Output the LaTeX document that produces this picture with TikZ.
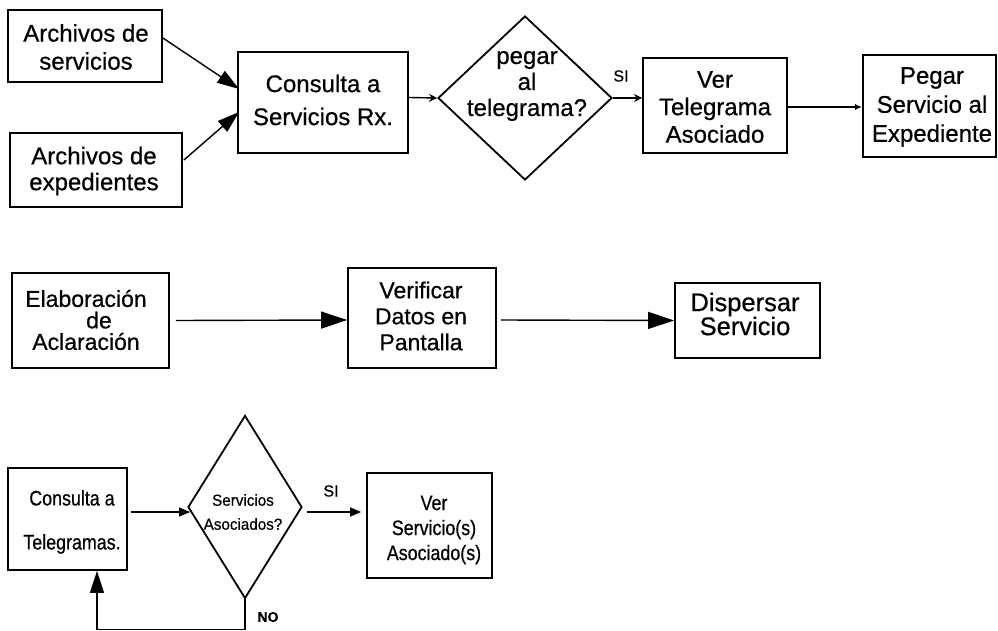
\documentclass[tikz,border=0pt]{standalone}
\usepackage{fontspec}
\setmainfont[FakeBold=0.6]{Liberation Sans}
\newfontfamily\condfont[FakeStretch=0.85,FakeBold=0.6]{Liberation Sans}
\newfontfamily\dfont[FakeStretch=0.95,FakeBold=0.5]{Liberation Sans}
\usetikzlibrary{arrows.meta,calc,shapes.geometric}
\begin{document}
\begin{tikzpicture}[x=1pt,y=-1pt,
  box/.style={draw, line width=1.8pt, inner sep=0pt},
  txt/.style={inner sep=0pt, align=center},
  conn/.style={line width=1.4pt},
  bigarr/.style={conn, -{Triangle[length=22pt,width=14pt]}},
  widearr/.style={conn, -{Triangle[length=26pt,width=17pt]}},
  tinyarr/.style={conn, -{Stealth[length=8pt,width=8pt]}},
  smallarr/.style={conn, -{Triangle[length=11pt,width=9pt]}},
  dotarr/.style={conn, -{Latex[length=7pt,width=6pt]}}]
\fill[white] (0,0) rectangle (998,631);
\useasboundingbox (0,0) rectangle (998,631);

% ---------- row 1 ----------
\node[box, minimum width=154pt, minimum height=72pt] (as) at (85,46) {};
\node[txt, font=\fontsize{24}{28}\selectfont] (ast) at (86,47) {Archivos de\\servicios};

\node[box, minimum width=172pt, minimum height=74pt] (ae) at (96,170) {};
\node[txt, font=\fontsize{24}{26}\selectfont] (aet) at (94,171) {Archivos de\\expedientes};

\node[box, minimum width=170pt, minimum height=101pt] (csr) at (323,102.5) {};
\node[txt, font=\fontsize{24}{33}\selectfont] (csrt) at (323,100) {Consulta a\\Servicios Rx.};

\node[diamond, draw, line width=1.8pt, inner sep=0pt, minimum width=174pt, minimum height=164pt] (d1) at (525,98) {};
\node[txt, font=\fontsize{24}{26}\selectfont] (d1t) at (527,86) {pegar\\al\\telegrama?};

\node[box, minimum width=144pt, minimum height=95pt] (vt) at (715,105.5) {};
\node[txt, font=\fontsize{24}{27.5}\selectfont] (vtt) at (715,107) {Ver\\Telegrama\\Asociado};

\node[box, minimum width=133pt, minimum height=102pt] (ps) at (929.5,106) {};
\node[txt, font=\fontsize{24}{29}\selectfont] (pst) at (932,107) {Pegar\\Servicio al\\Expediente};

\node[font=\fontsize{16}{16}\selectfont, inner sep=0pt] (si1) at (621,76) {SI};

\draw[bigarr] ($(as.east)+(0,-8)$) -- ($(csr.west)+(2,-13.5)$);
\draw[bigarr] ($(ae.east)+(1,-10)$) -- ($(csr.west)+(2,9.5)$);
\draw[tinyarr] ($(csr.east)+(0,-5)$) -- (d1.west);
\draw[tinyarr] (d1.east) -- ($(vt.west)+(0,-7.5)$);
\draw[dotarr] ($(vt.east)+(0,1.5)$) -- ($(ps.west)+(0,1)$);

% ---------- row 2 ----------
\node[box, minimum width=157pt, minimum height=95pt] (el) at (90.5,320.5) {};
\node[txt, font=\fontsize{23}{21.5}\selectfont] (elt) at (86,320) {Elaboración\\\hspace*{26pt}de\\Aclaración};

\node[box, minimum width=148pt, minimum height=100pt] (vd) at (422,318) {};
\node[txt, font=\fontsize{23}{26}\selectfont] (vdt) at (421,316) {Verificar\\Datos en\\Pantalla};

\node[box, minimum width=145pt, minimum height=75pt] (dsp) at (747.5,320.5) {};
\node[txt, font=\fontsize{25.5}{24}\selectfont] (dspt) at (745,314) {Dispersar\\Servicio};

\draw[widearr] ($(el.east)+(6,0)$) -- ($(vd.west)+(0,2)$);
\draw[widearr] ($(vd.east)+(4,2)$) -- (dsp.west);

% ---------- row 3 ----------
\node[box, minimum width=119pt, minimum height=102pt] (ct) at (67.5,519) {};
\node[txt, font=\condfont\fontsize{21}{44}\selectfont] (ctt) at (72,522) {Consulta a\\Telegramas.};

\node[diamond, draw, line width=1.8pt, inner sep=0pt, minimum width=114pt, minimum height=183pt] (d2) at (245,507) {};
\node[txt, font=\dfont\fontsize{16}{24}\selectfont] (d2t) at (243,512) {Servicios\\Asociados?};

\node[box, minimum width=125pt, minimum height=105pt] (vs) at (429.5,525.5) {};
\node[txt, font=\condfont\fontsize{21}{25}\selectfont] (vst) at (434,530) {Ver\\Servicio(s)\\Asociado(s)};

\node[font=\fontsize{16}{16}\selectfont, inner sep=0pt] (si2) at (331,491) {SI};
\node[font=\bfseries\fontsize{14}{14}\selectfont, inner sep=0pt] (no) at (268,617) {NO};

\draw[smallarr] ($(ct.east)+(3,-7)$) -- ($(d2.west)+(3,5)$);
\draw[smallarr] ($(d2.east)+(4,5)$) -- ($(vs.west)+(-5,-13.5)$);
\draw[bigarr] (d2.south) -- ++(0,30) -| ($(ct.south)+(29.5,0)$);
\end{tikzpicture}
\end{document}
